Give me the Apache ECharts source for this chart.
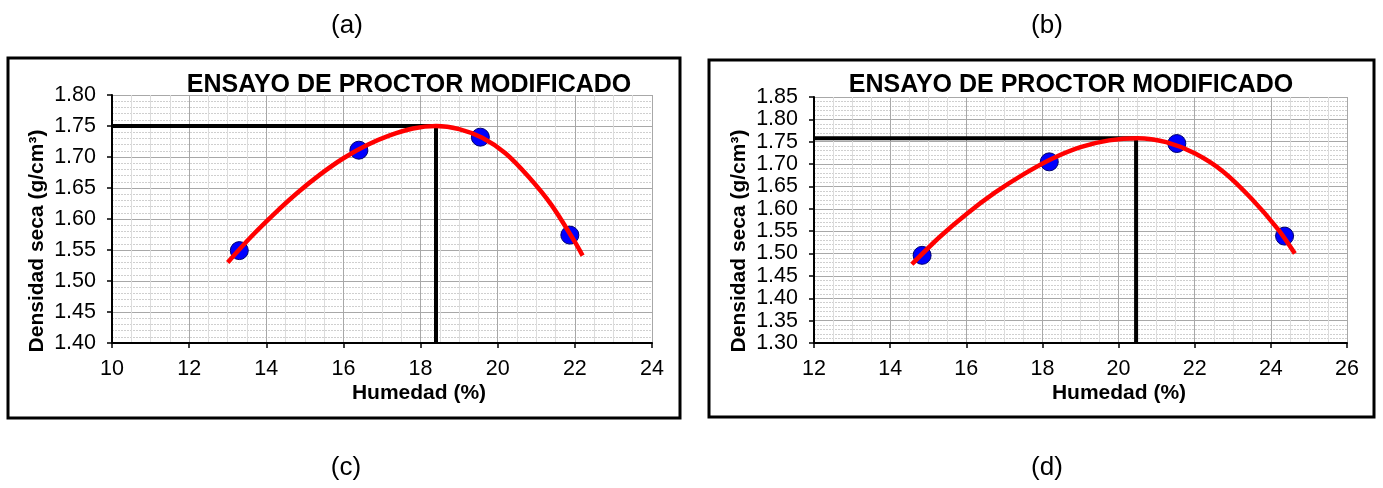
<!DOCTYPE html>
<html>
<head>
<meta charset="utf-8">
<script src="https://cdn.jsdelivr.net/npm/echarts@6/dist/echarts.min.js"></script>
<style>
  html, body { margin: 0; padding: 0; background: #ffffff; }
  #chart { width: 1383px; height: 488px; }
</style>
</head>
<body>
<div id="chart"></div>
<script>
// Text
const panelLabels = ['(a)', '(b)', '(c)', '(d)'];
const titleText = 'ENSAYO DE PROCTOR MODIFICADO';
const xName = 'Humedad (%)';
const yName = 'Densidad seca (g/cm³)';

// Left test: measured points
const humedadA = [13.3, 16.4, 19.55, 21.87];
const densidadA = [1.549, 1.711, 1.732, 1.574];
// Left test: fitted compaction curve
const curvaHumA = [13.0, 13.6, 14.2, 14.8, 15.4, 16.0, 16.6, 17.2, 17.8, 18.4, 19.0, 19.6, 20.2, 20.8, 21.4, 22.0, 22.2];
const curvaDenA = [1.530, 1.571, 1.608, 1.642, 1.672, 1.698, 1.719, 1.735, 1.746, 1.750, 1.745, 1.731, 1.706, 1.668, 1.622, 1.563, 1.541];
// Left test: optimum moisture / max dry density
const optimoA = [18.4, 1.75];
// Left axes
const xTicksA = [10, 24, 2];
const yTicksA = [1.40, 1.80, 0.05];

// Right test: measured points
const humedadB = [14.84, 18.18, 21.53, 24.36];
const densidadB = [1.496, 1.705, 1.746, 1.539];
// Right test: fitted compaction curve
const curvaHumB = [14.57, 15.3, 16.0, 16.75, 17.5, 18.25, 19.0, 19.75, 20.5, 21.25, 22.0, 22.75, 23.5, 24.2, 24.63];
const curvaDenB = [1.476, 1.537, 1.588, 1.636, 1.677, 1.712, 1.738, 1.753, 1.758, 1.749, 1.724, 1.683, 1.622, 1.553, 1.500];
// Right test: optimum
const optimoB = [20.46, 1.758];
// Right axes
const xTicksB = [12, 26, 2];
const yTicksB = [1.30, 1.85, 0.05];

const FONT = '"Liberation Sans", Arial, sans-serif';

const zip = (a, b) => a.map((v, i) => [v, b[i]]);

function xAxisFor(ticks, gridIndex) {
  return {
    type: 'value', gridIndex,
    min: ticks[0], max: ticks[1], interval: ticks[2],
    axisLine: { onZero: false, lineStyle: { color: '#000', width: 2 } },
    axisTick: { show: true, length: 5, lineStyle: { color: '#000', width: 1.5 } },
    axisLabel: { color: '#000', fontSize: 21.5, fontFamily: FONT, margin: 15 },
    splitLine: { show: true, lineStyle: { color: '#a8a8a8', width: 1 } },
    minorTick: { show: true, splitNumber: 4, length: 0 },
    minorSplitLine: { show: true, lineStyle: { color: '#dcdcdc', width: 1 } }
  };
}

function yAxisFor(ticks, gridIndex) {
  return {
    type: 'value', gridIndex,
    min: ticks[0], max: ticks[1], interval: ticks[2],
    axisLine: { onZero: false, lineStyle: { color: '#000', width: 2 } },
    axisTick: { show: true, length: 5, lineStyle: { color: '#000', width: 1.5 } },
    axisLabel: { color: '#000', fontSize: 21.5, fontFamily: FONT, margin: 16,
                 formatter: v => v.toFixed(2) },
    splitLine: { show: true, lineStyle: { color: '#a8a8a8', width: 1 } },
    minorTick: { show: true, splitNumber: 5, length: 0 },
    minorSplitLine: { show: true, lineStyle: { color: '#cfcfcf', width: 1, type: [2, 1] } }
  };
}

function seriesFor(idx, hum, den, cHum, cDen, opt, xTicks, yTicks) {
  return [
    {
      type: 'line', xAxisIndex: idx, yAxisIndex: idx, z: 3,
      data: [[xTicks[0], opt[1]], [opt[0], opt[1]], [opt[0], yTicks[0]]],
      symbol: 'none', lineStyle: { color: '#000', width: 4 }, silent: true
    },
    {
      type: 'scatter', xAxisIndex: idx, yAxisIndex: idx, z: 4,
      data: zip(hum, den), symbol: 'circle', symbolSize: 18,
      itemStyle: { color: '#0000ff', opacity: 1, borderColor: '#000070', borderWidth: 1 }
    },
    {
      type: 'line', xAxisIndex: idx, yAxisIndex: idx, z: 5,
      data: zip(cHum, cDen), smooth: 0.3, symbol: 'none',
      lineStyle: { color: '#ff0000', width: 4.5 }
    }
  ];
}

function text(str, x, y, font, extra) {
  return Object.assign({
    type: 'text', x, y, z: 10,
    style: { text: str, fill: '#000', font, align: 'center', verticalAlign: 'middle' }
  }, extra || {});
}

const chart = echarts.init(document.getElementById('chart'), null, { renderer: 'canvas' });

chart.setOption({
  animation: false,
  backgroundColor: '#ffffff',
  grid: [
    { left: 112, top: 95, width: 540, height: 248 },
    { left: 814, top: 97, width: 533, height: 246 }
  ],
  xAxis: [xAxisFor(xTicksA, 0), xAxisFor(xTicksB, 1)],
  yAxis: [yAxisFor(yTicksA, 0), yAxisFor(yTicksB, 1)],
  series: [
    ...seriesFor(0, humedadA, densidadA, curvaHumA, curvaDenA, optimoA, xTicksA, yTicksA),
    ...seriesFor(1, humedadB, densidadB, curvaHumB, curvaDenB, optimoB, xTicksB, yTicksB)
  ],
  graphic: [
    // chart frames
    { type: 'rect', shape: { x: 8, y: 58, width: 672, height: 360 },
      style: { fill: 'none', stroke: '#000', lineWidth: 3 }, z: 0 },
    { type: 'rect', shape: { x: 709, y: 60, width: 665, height: 357 },
      style: { fill: 'none', stroke: '#000', lineWidth: 3 }, z: 0 },
    // titles
    text(titleText, 409, 85, 'bold 25px ' + FONT),
    text(titleText, 1071, 85, 'bold 25px ' + FONT),
    // axis names
    text(xName, 419, 393, 'bold 21px ' + FONT),
    text(xName, 1119, 393, 'bold 21px ' + FONT),
    text(yName, 37, 241, 'bold 21px ' + FONT, { rotation: Math.PI / 2 }),
    text(yName, 739, 241, 'bold 21px ' + FONT, { rotation: Math.PI / 2 }),
    // panel labels
    text(panelLabels[0], 347, 26, '26px ' + FONT),
    text(panelLabels[1], 1047, 26, '26px ' + FONT),
    text(panelLabels[2], 346, 468, '26px ' + FONT),
    text(panelLabels[3], 1047, 468, '26px ' + FONT)
  ]
});
</script>
</body>
</html>
